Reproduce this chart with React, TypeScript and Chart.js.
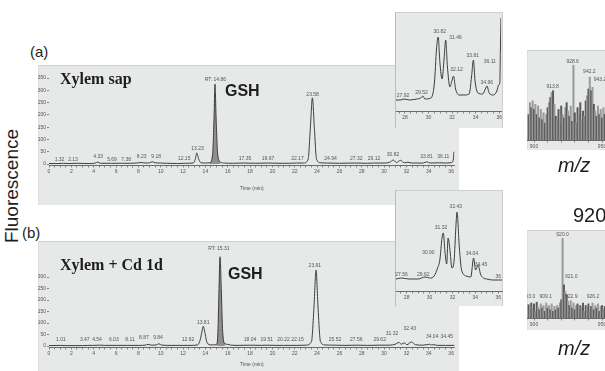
import React, { useEffect, useRef } from 'react';
import { Chart, registerables } from 'chart.js';

Chart.register(...registerables);

const SANS = '"Liberation Sans", Arial, sans-serif';
const SERIF = '"Liberation Serif", "Times New Roman", serif';
const GRAY = '#e6e9e8';

// ---------------- (a) Xylem sap : chromatogram ----------------
const timeA = [0, 0.8, 1.3, 1.8, 2.5, 3.5, 4.1, 4.35, 4.6, 5.6, 6.5, 7.3, 7.8, 8.25, 8.7, 9.0, 9.25, 9.5, 10.0, 10.5, 11.5, 12.2, 12.9, 13.1, 13.23, 13.4, 13.6, 14.0, 14.4, 14.65, 14.78, 14.86, 14.95, 15.1, 15.35, 15.7, 16.5, 17.4, 18.5, 19.67, 20.5, 21.5, 22.17, 22.8, 23.2, 23.4, 23.58, 23.75, 23.95, 24.3, 24.94, 26, 27.32, 28.5, 29.12, 30.0, 30.5, 30.82, 31.1, 31.46, 31.8, 32.12, 32.5, 33.5, 33.81, 34.1, 34.96, 35.5, 35.9, 36.11, 36.2, 36.25];
const fluorA = [2, 2, 3, 2, 3, 2, 3, 8, 3, 3, 3, 3, 4, 6, 4, 5, 9, 5, 4, 3, 2, 3, 4, 20, 45, 20, 5, 4, 5, 40, 200, 325, 200, 40, 8, 4, 3, 4, 3, 4, 3, 3, 4, 4, 20, 150, 269, 150, 20, 5, 4, 3, 4, 3, 4, 4, 7, 16, 6, 15, 5, 7, 4, 4, 9, 4, 5, 4, 5, 8, 20, 50];
const gshRangeA: [number, number] = [14.4, 15.35];
const yTicksA = [0, 50, 100, 150, 200, 250, 300, 350];
const peakTimeA = [0.94, 2.15, 4.4, 5.64, 6.9, 8.3, 9.6, 12.1, 13.3, 14.9, 17.55, 19.6, 22.25, 23.6, 25.2, 27.5, 29.1, 30.8, 33.8, 35.3];
const peakValA = [16, 16, 30, 19, 19, 32, 32, 20, 64, 345, 23, 23, 23, 282, 23, 23, 23, 37, 32, 32];
const peakTextA = ['1.32', '2.13', '4.33', '5.69', '7.38', '8.23', '9.18', '12.15', '13.23', 'RT: 14.86', '17.35', '19.67', '22.17', '23.58', '24.94', '27.32', '29.12', '30.82', '33.81', '36.11'];

// (a) inset, 27-36 min
const insetTimeA = [27.24, 27.6, 27.92, 28.4, 29.0, 29.35, 29.52, 29.7, 30.2, 30.5, 30.68, 30.82, 30.97, 31.15, 31.32, 31.46, 31.6, 31.82, 31.98, 32.12, 32.3, 32.6, 33.0, 33.45, 33.65, 33.81, 33.95, 34.2, 34.6, 34.82, 34.96, 35.15, 35.5, 35.8, 35.95, 36.05, 36.1, 36.15];
const insetFluorA = [1, 1, 2, 1, 2, 3, 5, 2, 3, 18, 52, 64, 38, 22, 42, 61, 35, 14, 20, 25, 12, 6, 6, 7, 24, 41, 20, 8, 7, 12, 15, 8, 6, 10, 16, 18, 50, 83];
const insetLabelTimeA = [27.83, 29.4, 30.95, 32.29, 32.38, 33.75, 34.95, 35.2];
const insetLabelValA = [5, 8, 69, 63, 31, 45, 18, 39];
const insetLabelTextA = ['27.92', '29.52', '30.82', '31.46', '32.12', '33.81', '34.96', '36.11'];

// (a) mass spectrum
const mzA = [896, 897, 898, 899, 900, 901, 902, 903, 904, 905, 906, 907, 908, 909, 910, 911, 912, 913, 914, 915, 916, 917, 918, 919, 920, 921, 922, 923, 924, 925, 926, 927, 928, 929, 930, 931, 932, 933, 934, 935, 936, 937, 938, 939, 940, 941, 942, 943, 944, 945, 946, 947, 948, 949, 950, 951, 952, 953, 954, 955, 956, 957, 958, 959, 960];
const intensityA = [30, 44, 38, 46, 36, 42, 30, 40, 26, 36, 24, 32, 20, 30, 38, 44, 50, 56, 58, 42, 28, 24, 36, 20, 40, 30, 26, 38, 44, 34, 28, 40, 22, 88, 32, 20, 38, 30, 44, 24, 34, 28, 46, 52, 60, 74, 58, 62, 42, 34, 28, 40, 30, 36, 26, 38, 30, 34, 28, 36, 30, 32, 26, 34, 30];
const specLabelMzA = [913.7, 928.4, 940.7, 948.5];
const specLabelValA = [63, 92, 80, 71];
const specLabelTextA = ['913.8', '928.6', '942.2', '943.2'];

// ---------------- (b) Xylem + Cd 1d : chromatogram ----------------
const timeB = [0, 1.0, 1.5, 3.0, 3.47, 4.0, 4.54, 5.0, 6.03, 7.0, 8.11, 8.6, 8.87, 9.2, 9.6, 9.84, 10.1, 11.0, 12.0, 12.62, 13.3, 13.55, 13.72, 13.81, 13.95, 14.15, 14.5, 15.0, 15.12, 15.22, 15.31, 15.42, 15.55, 15.75, 15.95, 16.3, 17.0, 18.04, 19.0, 19.51, 20.22, 21.0, 22.15, 23.0, 23.5, 23.72, 23.91, 24.08, 24.3, 24.7, 25.52, 26.5, 27.56, 28.5, 29.62, 30.5, 31.0, 31.32, 31.55, 31.8, 32.05, 32.43, 32.8, 33.5, 34.04, 34.25, 34.45, 34.8, 35.5, 36.3];
const fluorB = [2, 3, 2, 2, 3, 3, 4, 3, 3, 3, 3, 4, 7, 4, 5, 10, 4, 3, 3, 3, 5, 30, 70, 86, 60, 15, 5, 6, 60, 250, 388, 250, 60, 10, 8, 4, 3, 4, 3, 4, 3, 3, 3, 4, 20, 170, 330, 170, 20, 5, 4, 3, 4, 3, 4, 4, 8, 16, 8, 14, 6, 18, 6, 4, 8, 5, 6, 3, 3, 3];
const gshRangeB: [number, number] = [15.0, 15.75];
const yTicksB = [0, 50, 100, 150, 200, 250, 300];
const peakTimeB = [1.07, 3.2, 4.3, 5.8, 7.25, 8.5, 9.76, 12.45, 13.8, 15.2, 18.0, 19.5, 21.0, 22.25, 23.8, 25.6, 27.5, 29.6, 30.7, 32.3, 34.3, 35.6];
const peakValB = [26, 26, 26, 26, 26, 35, 35, 26, 101, 425, 26, 26, 26, 26, 348, 26, 26, 26, 56, 74, 43, 40];
const peakTextB = ['1.01', '3.47', '4.54', '6.03', '8.11', '8.87', '9.84', '12.62', '13.81', 'RT: 15.31', '18.04', '19.51', '20.22', '22.15', '23.91', '25.52', '27.56', '29.62', '31.32', '32.43', '34.04', '34.45'];

// (b) inset
const insetTimeB = [27.07, 27.56, 28.2, 29.0, 29.62, 30.0, 30.4, 30.7, 30.9, 31.1, 31.2, 31.35, 31.5, 31.62, 31.8, 31.95, 32.15, 32.3, 32.4, 32.6, 32.8, 33.2, 33.6, 33.85, 34.02, 34.25, 34.45, 34.7, 35.0, 35.5, 36.0, 36.33];
const insetFluorB = [3, 4, 3, 3, 5, 4, 6, 14, 22, 45, 49, 30, 18, 44, 30, 14, 22, 55, 70, 35, 12, 6, 5, 24, 12, 17, 8, 4, 3, 2, 2, 2];
const insetLabelTimeB = [27.55, 29.45, 29.9, 31.0, 32.3, 33.7, 34.5, 36.0];
const insetLabelValB = [7, 7, 29, 54, 75, 28, 17, 5];
const insetLabelTextB = ['27.56', '29.62', '30.90', '31.32', '32.43', '34.04', '34.45', '36'];

// (b) mass spectrum
const mzB = mzA;
const intensityB = [16, 10, 18, 12, 17, 8, 19, 13, 10, 17, 12, 15, 8, 18, 12, 15, 10, 17, 8, 14, 10, 15, 12, 18, 22, 96, 40, 32, 28, 20, 15, 21, 12, 18, 10, 15, 17, 10, 15, 12, 18, 8, 15, 12, 17, 10, 14, 18, 10, 15, 12, 17, 8, 14, 15, 10, 14, 12, 15, 10, 14, 12, 15, 10, 12];
const specLabelMzB = [896.3, 908.6, 921.0, 927.4, 927.4, 943.3];
const specLabelValB = [26, 26, 100, 50, 26, 26];
const specLabelTextB = ['903.0', '909.1', '920.0', '921.0', '922.9', '926.2'];

// ---------------- helpers ----------------
function textPlugin(xs: number[], ys: number[], texts: string[]) {
  return {
    id: 'peakText',
    afterDatasetsDraw(chart: any) {
      const { ctx, scales } = chart;
      ctx.save();
      ctx.font = `5px ${SANS}`;
      ctx.fillStyle = '#555';
      ctx.textAlign = 'center';
      ctx.textBaseline = 'middle';
      texts.forEach((t, i) => ctx.fillText(t, scales.x.getPixelForValue(xs[i]), scales.y.getPixelForValue(ys[i])));
      ctx.restore();
    },
  };
}

function tickList(min: number, max: number, step: number) {
  const out: { value: number }[] = [];
  for (let v = Math.ceil(min / step - 1e-9) * step; v <= max + 1e-9; v += step) out.push({ value: +v.toFixed(3) });
  return out;
}

const AXIS = '#6a6a6a';

function xAxis(o: { min: number; max: number; step: number; major: number; height: number; title?: string }) {
  return {
    type: 'linear',
    min: o.min,
    max: o.max,
    offset: false,
    afterBuildTicks: (s: any) => { s.ticks = tickList(o.min, o.max, o.step); },
    afterFit: (s: any) => { s.height = o.height; },
    ticks: {
      autoSkip: false, maxRotation: 0, minRotation: 0, padding: 1,
      font: { size: 5, family: SANS }, color: '#555',
      callback: (v: number) => (Math.abs(v / o.major - Math.round(v / o.major)) < 1e-6 ? String(Math.round(v)) : ''),
    },
    grid: { drawOnChartArea: false, drawTicks: true, tickLength: 2.5, color: AXIS, lineWidth: 0.8, offset: false },
    border: { display: true, color: AXIS, width: 1 },
    title: o.title
      ? { display: true, text: o.title, font: { size: 5, family: SANS }, color: '#555', padding: { top: 0, bottom: 13 } }
      : { display: false },
  };
}

function chromConfig(p: {
  time: number[]; fl: number[]; fillRange?: [number, number];
  xMin: number; xMax: number; xStep: number;
  yMin: number; yMax: number; yTicks?: number[];
  pad: { top: number; right: number; left: number };
  yWidth: number; xHeight: number; title?: string;
  lx: number[]; ly: number[]; lt: string[];
}) {
  const pts = p.time.map((t, i) => ({ x: t, y: p.fl[i] }));
  const datasets: any[] = [
    { data: pts, borderColor: '#3d3d3d', borderWidth: 1, pointRadius: 0, fill: false, cubicInterpolationMode: 'monotone', order: 0 },
  ];
  if (p.fillRange) {
    const [a, b] = p.fillRange;
    datasets.push({
      data: pts.filter((q) => q.x >= a && q.x <= b),
      borderWidth: 0, borderColor: 'rgba(0,0,0,0)', backgroundColor: '#8f8f8f',
      fill: 'origin', pointRadius: 0, cubicInterpolationMode: 'monotone', order: 1,
    });
  }
  const yTicks = p.yTicks;
  return {
    type: 'line',
    data: { datasets },
    options: {
      animation: false, responsive: false, maintainAspectRatio: false, events: [],
      layout: { padding: { top: p.pad.top, right: p.pad.right, left: p.pad.left, bottom: 0 } },
      plugins: { legend: { display: false }, tooltip: { enabled: false } },
      scales: {
        x: xAxis({ min: p.xMin, max: p.xMax, step: p.xStep, major: 2, height: p.xHeight, title: p.title }),
        y: {
          type: 'linear', display: !!yTicks, min: p.yMin, max: p.yMax,
          afterBuildTicks: (s: any) => { if (yTicks) s.ticks = yTicks.map((v) => ({ value: v })); },
          afterFit: (s: any) => { s.width = p.yWidth; },
          ticks: { font: { size: 5, family: SANS }, color: '#555', padding: 1 },
          grid: { drawOnChartArea: false, drawTicks: true, tickLength: 2, color: AXIS, lineWidth: 0.8 },
          border: { display: false },
        },
      },
    },
    plugins: [textPlugin(p.lx, p.ly, p.lt)],
  };
}

function specConfig(p: { mz: number[]; inten: number[]; padTop: number; xHeight: number; lx: number[]; ly: number[]; lt: string[] }) {
  return {
    type: 'bar',
    data: {
      datasets: [{
        data: p.mz.map((m, i) => ({ x: m, y: p.inten[i] })),
        backgroundColor: (c: any) => (c.dataIndex % 2 ? '#9a9a9a' : '#5c5c5c'),
        barPercentage: 1, categoryPercentage: 1, borderWidth: 0,
      }],
    },
    options: {
      animation: false, responsive: false, maintainAspectRatio: false, events: [],
      layout: { padding: { top: p.padTop, right: 0, left: 0, bottom: 0 } },
      plugins: { legend: { display: false }, tooltip: { enabled: false } },
      scales: {
        x: xAxis({ min: 894.85, max: 975.7, step: 10, major: 50, height: p.xHeight }),
        y: { type: 'linear', display: false, min: 0, max: 100 },
      },
    },
    plugins: [textPlugin(p.lx, p.ly, p.lt)],
  };
}

function ChartCanvas({ left, top, width, height, config }: { left: number; top: number; width: number; height: number; config: () => any }) {
  const ref = useRef<HTMLCanvasElement>(null);
  useEffect(() => {
    const chart = new Chart(ref.current as HTMLCanvasElement, config());
    return () => chart.destroy();
  }, []);
  return <canvas ref={ref} width={width} height={height} style={{ position: 'absolute', left, top, width, height }} />;
}

const abs = (left: number, top: number, width: number, height: number): React.CSSProperties => ({
  position: 'absolute', left, top, width, height, boxSizing: 'border-box',
});

const txt = (left: number, top: number, size: number, extra: React.CSSProperties = {}): React.CSSProperties => ({
  position: 'absolute', left, top, fontSize: size, lineHeight: 1, whiteSpace: 'nowrap', ...extra,
});

export default function App() {
  return (
    <div style={{ position: 'fixed', left: 0, top: 0, width: 605, height: 371, overflow: 'hidden', background: '#fff', fontFamily: SANS, color: '#1e1e1e' }}>
      {/* panel backgrounds */}
      <div style={{ ...abs(38, 65, 421, 140), background: GRAY, borderTop: '1px solid #cdd0d0', borderLeft: '1px solid #dcdfdf' }} />
      <div style={{ ...abs(38, 241, 421, 130), background: GRAY, borderTop: '1px solid #cdd0d0', borderLeft: '1px solid #dcdfdf' }} />
      <div style={{ ...abs(395, 12, 108, 116), background: GRAY, borderTop: '1px solid #cdd0d0', borderLeft: '1px solid #b9bcbc', borderRight: '1px solid #cdd0d0' }} />
      <div style={{ ...abs(395, 190, 108, 116), background: GRAY, borderTop: '1px solid #cdd0d0', borderLeft: '1px solid #b9bcbc', borderRight: '1px solid #cdd0d0' }} />
      <div style={{ ...abs(527, 50, 90, 100), background: GRAY, borderTop: '1px solid #cdd0d0', borderLeft: '1px solid #dcdfdf' }} />
      <div style={{ ...abs(527, 230, 90, 100), background: GRAY, borderTop: '1px solid #cdd0d0', borderLeft: '1px solid #dcdfdf' }} />

      {/* (a) */}
      <ChartCanvas left={30} top={65} width={430} height={140} config={() => chromConfig({
        time: timeA, fl: fluorA, fillRange: gshRangeA, xMin: 0, xMax: 36.3, xStep: 0.5,
        yMin: -4, yMax: 350, yTicks: yTicksA, pad: { top: 13, right: 5.5, left: 0 }, yWidth: 19, xHeight: 40,
        title: 'Time (min)', lx: peakTimeA, ly: peakValA, lt: peakTextA,
      })} />
      <ChartCanvas left={395} top={12} width={108} height={116} config={() => chromConfig({
        time: insetTimeA, fl: insetFluorA, xMin: 27.24, xMax: 36.17, xStep: 0.5,
        yMin: -10, yMax: 87, pad: { top: 2, right: 1, left: 1 }, yWidth: 0, xHeight: 17,
        lx: insetLabelTimeA, ly: insetLabelValA, lt: insetLabelTextA,
      })} />
      <ChartCanvas left={527} top={50} width={110} height={105} config={() => specConfig({
        mz: mzA, inten: intensityA, padTop: 5, xHeight: 15, lx: specLabelMzA, ly: specLabelValA, lt: specLabelTextA,
      })} />

      {/* (b) */}
      <ChartCanvas left={30} top={241} width={430} height={140} config={() => chromConfig({
        time: timeB, fl: fluorB, fillRange: gshRangeB, xMin: 0, xMax: 36.3, xStep: 0.5,
        yMin: -4, yMax: 400, yTicks: yTicksB, pad: { top: 13, right: 5.5, left: 0 }, yWidth: 19, xHeight: 34,
        title: 'Time (min)', lx: peakTimeB, ly: peakValB, lt: peakTextB,
      })} />
      <ChartCanvas left={395} top={190} width={108} height={116} config={() => chromConfig({
        time: insetTimeB, fl: insetFluorB, xMin: 27.07, xMax: 36.33, xStep: 0.5,
        yMin: -9, yMax: 89, pad: { top: 3, right: 1, left: 1 }, yWidth: 0, xHeight: 15,
        lx: insetLabelTimeB, ly: insetLabelValB, lt: insetLabelTextB,
      })} />
      <ChartCanvas left={527} top={230} width={110} height={105} config={() => specConfig({
        mz: mzB, inten: intensityB, padTop: 5, xHeight: 17, lx: specLabelMzB, ly: specLabelValB, lt: specLabelTextB,
      })} />

      {/* free text */}
      <div style={{ position: 'absolute', left: 11, top: 186, transform: 'translate(-50%, -50%) rotate(-90deg)', fontSize: 19, lineHeight: 1, whiteSpace: 'nowrap' }}>Fluorescence</div>
      <div style={txt(30, 44, 15)}>(a)</div>
      <div style={txt(22, 225, 15)}>(b)</div>
      <div style={txt(60, 71, 16, { fontFamily: SERIF, fontWeight: 'bold' })}>Xylem sap</div>
      <div style={txt(225, 83, 16, { fontWeight: 'bold' })}>GSH</div>
      <div style={txt(60, 257, 16, { fontFamily: SERIF, fontWeight: 'bold' })}>Xylem + Cd 1d</div>
      <div style={txt(228, 266, 16, { fontWeight: 'bold' })}>GSH</div>
      <div style={txt(558, 155, 20, { fontStyle: 'italic' })}>m/z</div>
      <div style={txt(558, 338, 20, { fontStyle: 'italic' })}>m/z</div>
      <div style={txt(573, 205, 20)}>920.0</div>
    </div>
  );
}
